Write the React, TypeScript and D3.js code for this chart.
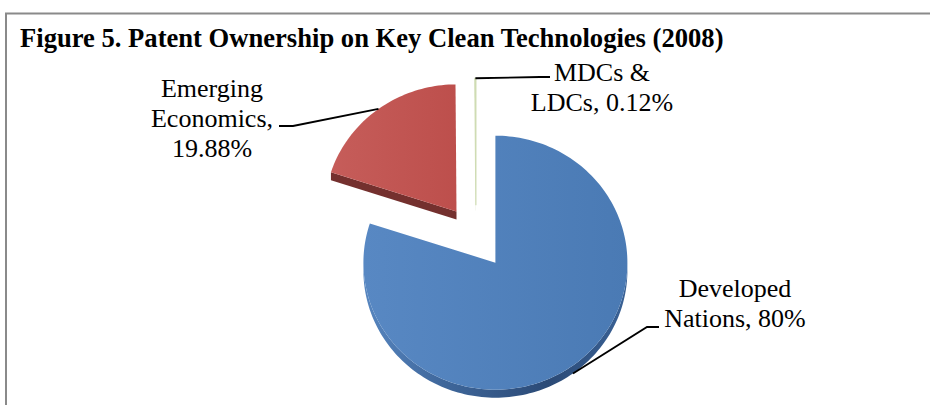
import React from "react";
import * as d3 from "d3";

// ---- data ----
const categories = ["Developed Nations", "Emerging Economics", "MDCs & LDCs"];
const values = [80, 19.88, 0.12];
const labelLines = [
  ["Developed", "Nations, 80%"],
  ["Emerging", "Economics,", "19.88%"],
  ["MDCs &", "LDCs, 0.12%"],
];
const titleText = "Figure 5. Patent Ownership on Key Clean Technologies (2008)";

// ---- styling / layout ----
const W = 930;
const H = 405;
const CX = 476;
const CY = 237;
const RX = 132;
const RY = 127;
const K = RY / RX;
const DEPTH = 8;
const EXPLODE = 33;

const topColors = [
  ["#5888c3", "#4a7ab4"],
  ["#c65d5a", "#bd4f4c"],
  ["#d3e0b8", "#c3d59c"],
];
const sideColors = ["#2f5282", "#7a2c2a", "#8aa84f"];
const cutColors = ["#3a6296", "#74302e", "#7f9a48"];

// label layout: text center x, first baseline, elbow, stub end
const labelLayout = [
  { x: 735, y: 297, elbow: [647, 327], stub: [659, 327] },
  { x: 212, y: 97, elbow: [293, 126], stub: [279, 126] },
  { x: 602, y: 81, elbow: [540, 77], stub: [550, 77] },
];
const LINE_GAP = 30;

export default function App() {
  const pie = d3.pie<number>().sort(null).value((d) => d).startAngle(0).endAngle(2 * Math.PI);
  const arcs = pie(values);
  const line = d3.line<[number, number]>().x((d) => d[0]).y((d) => d[1]);

  const rim = (cx: number, cy: number, a: number, dy = 0): [number, number] => [
    cx + RX * Math.sin(a),
    cy - RY * Math.cos(a) + dy,
  ];
  const arcPts = (cx: number, cy: number, a0: number, a1: number, dy = 0) => {
    const n = Math.max(2, Math.ceil(((a1 - a0) / (2 * Math.PI)) * 240));
    return d3.range(n + 1).map((i) => rim(cx, cy, a0 + ((a1 - a0) * i) / n, dy));
  };

  const slices = arcs.map((a, i) => {
    const mid = (a.startAngle + a.endAngle) / 2;
    const cx = CX + EXPLODE * Math.sin(mid);
    const cy = CY - EXPLODE * K * Math.cos(mid);
    const top = line([[cx, cy], ...arcPts(cx, cy, a.startAngle, a.endAngle)]) + "Z";
    let wall: string | null = null;
    const s = Math.max(a.startAngle, Math.PI / 2);
    const e = Math.min(a.endAngle, (3 * Math.PI) / 2);
    if (e > s) {
      const upper = arcPts(cx, cy, s, e);
      const lower = arcPts(cx, cy, s, e, DEPTH).reverse();
      wall = line([...upper, ...lower]) + "Z";
    }
    const cuts: string[] = [];
    const face = (ang: number) => {
      const p = rim(cx, cy, ang);
      return line([[cx, cy], p, [p[0], p[1] + DEPTH], [cx, cy + DEPTH]]) + "Z";
    };
    if (Math.sin(a.startAngle) < -1e-6) cuts.push(face(a.startAngle));
    if (Math.sin(a.endAngle) > 1e-6) cuts.push(face(a.endAngle));
    const inFront = Math.cos(mid) < 0;
    const anchor = rim(cx, cy, mid, inFront ? DEPTH : 0);
    return { i, top, wall, cuts, anchor };
  });

  return (
    <svg
      width={W}
      height={H}
      viewBox={`0 0 ${W} ${H}`}
      style={{ position: "absolute", left: 0, top: 0, background: "#fff" }}
    >
      <defs>
        {topColors.map((c, i) => (
          <linearGradient key={i} id={`top${i}`} x1="0" y1="0" x2="1" y2="0">
            <stop offset="0" stopColor={c[0]} />
            <stop offset="1" stopColor={c[1]} />
          </linearGradient>
        ))}
        <linearGradient id="wall0" x1="0" y1="0" x2="1" y2="0">
          <stop offset="0" stopColor="#5786c0" />
          <stop offset="0.3" stopColor="#3f679b" />
          <stop offset="0.7" stopColor="#2b4a76" />
          <stop offset="1" stopColor="#3a6296" />
        </linearGradient>
      </defs>
      <rect x={0} y={0} width={W} height={H} fill="#fff" />
      <line x1={5} y1={13.5} x2={W} y2={13.5} stroke="#8a8a8a" strokeWidth={2} />
      <line x1={6} y1={13} x2={6} y2={H} stroke="#8a8a8a" strokeWidth={2} />
      <text
        x={20}
        y={47}
        fontFamily="'Liberation Serif', 'Times New Roman', serif"
        fontWeight="bold"
        fontSize={26.6}
        fill="#000"
      >
        {titleText}
      </text>

      {slices.map((s) => (
        <g key={`side${s.i}`}>
          {s.wall && <path d={s.wall} fill={s.i === 0 ? "url(#wall0)" : sideColors[s.i]} />}
          {s.cuts.map((c, j) => (
            <path key={j} d={c} fill={cutColors[s.i]} />
          ))}
        </g>
      ))}
      {slices.map((s) => (
        <path
          key={`top${s.i}`}
          d={s.top}
          fill={`url(#top${s.i})`}
          stroke={s.i === 2 ? "#cfdcb3" : "none"}
          strokeWidth={s.i === 2 ? 1.2 : 0}
        >
          <title>{categories[s.i]}</title>
        </path>
      ))}

      {slices.map((s) => {
        const L = labelLayout[s.i];
        return (
          <path
            key={`lead${s.i}`}
            d={line([s.anchor as [number, number], L.elbow as [number, number], L.stub as [number, number]]) || ""}
            fill="none"
            stroke="#000"
            strokeWidth={1.8}
          />
        );
      })}

      {labelLines.map((lines, i) => (
        <text
          key={`lab${i}`}
          fontFamily="'Liberation Serif', 'Times New Roman', serif"
          fontSize={26}
          textAnchor="middle"
          fill="#000"
        >
          {lines.map((t, j) => (
            <tspan key={j} x={labelLayout[i].x} y={labelLayout[i].y + j * LINE_GAP}>
              {t}
            </tspan>
          ))}
        </text>
      ))}
    </svg>
  );
}
